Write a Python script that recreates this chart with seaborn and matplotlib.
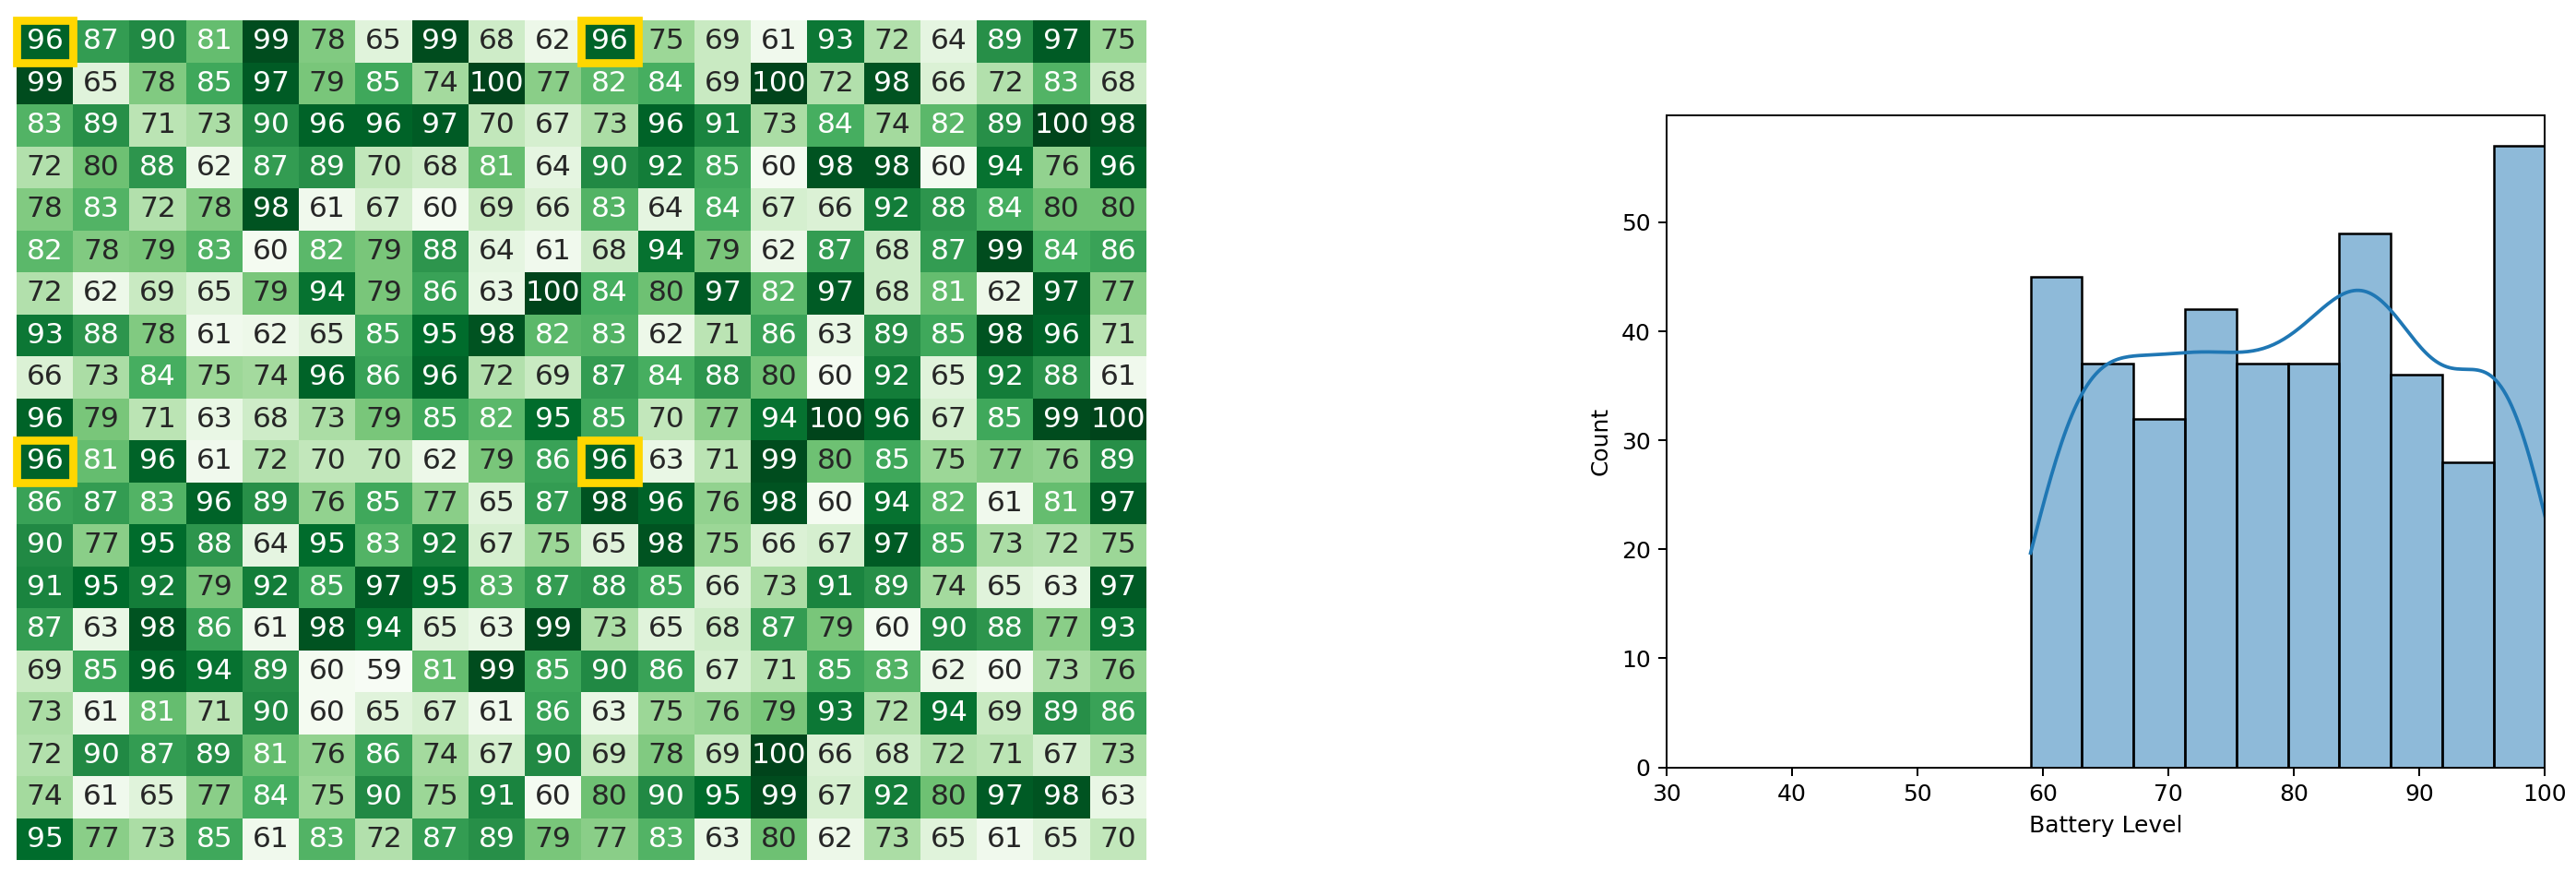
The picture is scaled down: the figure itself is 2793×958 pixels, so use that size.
import numpy as np
import pandas as pd
import matplotlib
matplotlib.use("Agg")
import matplotlib.pyplot as plt
from matplotlib.patches import Rectangle
import seaborn as sns

battery_grid = [
    [96,87,90,81,99,78,65,99,68,62,96,75,69,61,93,72,64,89,97,75],
    [99,65,78,85,97,79,85,74,100,77,82,84,69,100,72,98,66,72,83,68],
    [83,89,71,73,90,96,96,97,70,67,73,96,91,73,84,74,82,89,100,98],
    [72,80,88,62,87,89,70,68,81,64,90,92,85,60,98,98,60,94,76,96],
    [78,83,72,78,98,61,67,60,69,66,83,64,84,67,66,92,88,84,80,80],
    [82,78,79,83,60,82,79,88,64,61,68,94,79,62,87,68,87,99,84,86],
    [72,62,69,65,79,94,79,86,63,100,84,80,97,82,97,68,81,62,97,77],
    [93,88,78,61,62,65,85,95,98,82,83,62,71,86,63,89,85,98,96,71],
    [66,73,84,75,74,96,86,96,72,69,87,84,88,80,60,92,65,92,88,61],
    [96,79,71,63,68,73,79,85,82,95,85,70,77,94,100,96,67,85,99,100],
    [96,81,96,61,72,70,70,62,79,86,96,63,71,99,80,85,75,77,76,89],
    [86,87,83,96,89,76,85,77,65,87,98,96,76,98,60,94,82,61,81,97],
    [90,77,95,88,64,95,83,92,67,75,65,98,75,66,67,97,85,73,72,75],
    [91,95,92,79,92,85,97,95,83,87,88,85,66,73,91,89,74,65,63,97],
    [87,63,98,86,61,98,94,65,63,99,73,65,68,87,79,60,90,88,77,93],
    [69,85,96,94,89,60,59,81,99,85,90,86,67,71,85,83,62,60,73,76],
    [73,61,81,71,90,60,65,67,61,86,63,75,76,79,93,72,94,69,89,86],
    [72,90,87,89,81,76,86,74,67,90,69,78,69,100,66,68,72,71,67,73],
    [74,61,65,77,84,75,90,75,91,60,80,90,95,99,67,92,80,97,98,63],
    [95,77,73,85,61,83,72,87,89,79,77,83,63,80,62,73,65,61,65,70],
]
highlight_rows = [0, 0, 10, 10]
highlight_cols = [0, 10, 0, 10]
hist_xlim = [30, 100]
xlabel = "Battery Level"
ylabel = "Count"

grid = np.array(battery_grid)
values = pd.Series(grid.ravel(), name=xlabel)

fig = plt.figure(figsize=(2793/180, 958/180), dpi=180)
ax1 = fig.add_axes([0.0064, 0.027, 0.4386, 0.950])
ax2 = fig.add_axes([0.647, 0.132, 0.341, 0.738])

sns.heatmap(grid, ax=ax1, cmap="Greens", annot=True, fmt="d", cbar=False,
            annot_kws={"fontsize": 12.5}, xticklabels=False, yticklabels=False)
for r, c in zip(highlight_rows, highlight_cols):
    ax1.add_patch(Rectangle((c, r), 1, 1, fill=False, edgecolor="#FFD700",
                            lw=3.5, clip_on=False))

sns.histplot(x=values, bins=10, kde=True, ax=ax2)
ax2.set_xlim(*hist_xlim)
ax2.set_xlabel(xlabel)
ax2.set_ylabel(ylabel)

fig.savefig("out.png", dpi=180)
